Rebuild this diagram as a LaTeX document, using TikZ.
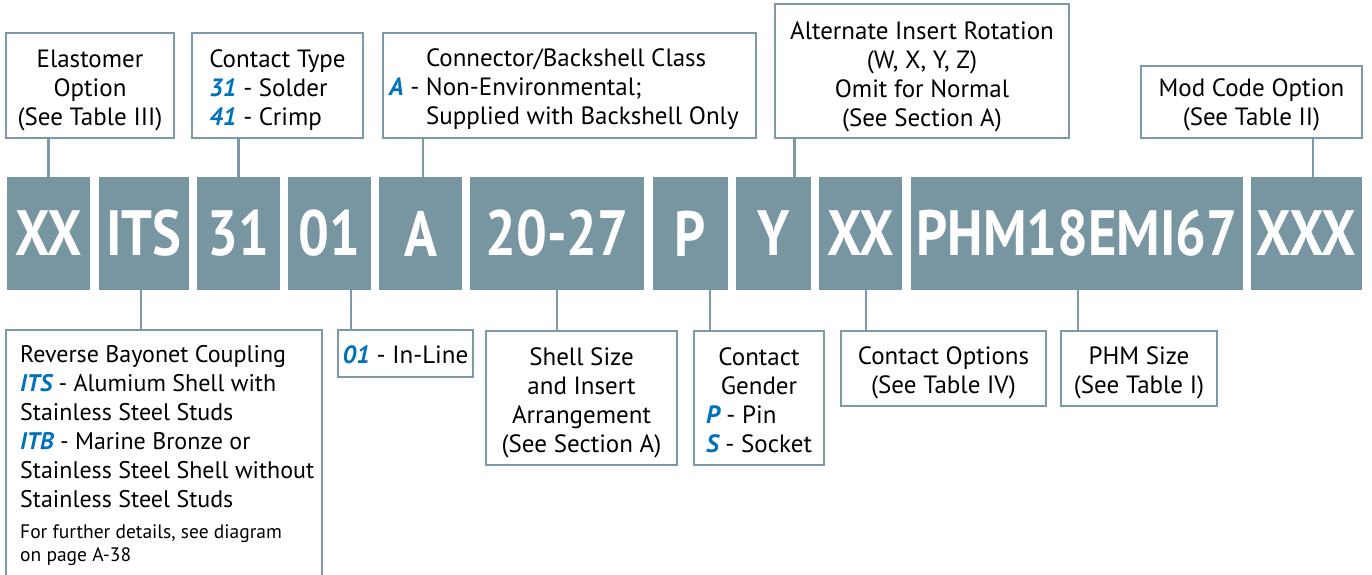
\documentclass[tikz,border=0pt]{standalone}
\usepackage{fontspec}
\setmainfont{PT Sans}
\newfontfamily\codefont[FakeStretch=0.85]{PT Sans}
\definecolor{blockgray}{RGB}{120,149,162}
\definecolor{linegray}{RGB}{125,153,168}
\definecolor{optblue}{RGB}{0,114,188}
\newcommand{\opt}[1]{{\color{optblue}\bfseries\itshape #1}}
\newcommand{\topgap}{\rule{0pt}{27pt}}
\tikzset{
	codebox/.style={fill=blockgray, text=white, inner sep=0pt, minimum height=113pt, font=\codefont\bfseries\fontsize{64}{64}\selectfont},
	infobox/.style={draw=linegray, line width=2.4pt, inner sep=0pt, font=\fontsize{25}{29}\selectfont},
	boxtext/.style={inner sep=0pt, font=\fontsize{25}{29}\selectfont},
	link/.style={draw=linegray, line width=2.4pt}
}
\begin{document}
\begin{tikzpicture}[x=1pt,y=-1pt]
	\useasboundingbox (0,0) rectangle (1372,574);
	% part number blocks
	\node[codebox, minimum width=83pt] (b1) at (48.5,233.5) {XX};
	\node[codebox, minimum width=90pt] (b2) at (144,233.5) {ITS};
	\node[codebox, minimum width=83pt] (b3) at (238.5,233.5) {31};
	\node[codebox, minimum width=83pt] (b4) at (329.5,233.5) {01};
	\node[codebox, minimum width=83pt] (b5) at (420.5,233.5) {A};
	\node[codebox, minimum width=174pt] (b6) at (557,233.5) {20-27};
	\node[codebox, minimum width=75pt] (b7) at (690.5,233.5) {P};
	\node[codebox, minimum width=75pt] (b8) at (773.5,233.5) {Y};
	\node[codebox, minimum width=83pt] (b9) at (860.5,233.5) {XX};
	\node[codebox, minimum width=332pt] (b10) at (1077,233.5) {PHM18EMI67};
	\node[codebox, minimum width=111pt] (b11) at (1306.5,233.5) {XXX};
	% upper boxes
	\node[infobox, minimum width=168pt, minimum height=105pt, align=center] (elast) at (90,85.5) {\topgap Elastomer\\Option\\(See Table III)};
	\draw[link] (elast.south -| b1.north) -- (b1.north);
	\node[infobox, minimum width=171pt, minimum height=105pt, align=left] (ctype) at (277.5,85.5) {\topgap Contact Type\\\opt{31} - Solder\\\opt{41} - Crimp};
	\draw[link] (ctype.south -| b3.north) -- (b3.north);
	\node[infobox, minimum width=373pt, minimum height=105pt] (cls) at (569.5,85.5) {};
	\node[boxtext, align=left, anchor=west] (clstext) at ([xshift=44pt, yshift=-4pt]cls.west) {Connector/Backshell Class\\\llap{\opt{A} - }Non-Environmental;\\Supplied with Backshell Only};
	\draw[link] ([xshift=2.5pt]b5.north) -- ([xshift=2.5pt]b5.north |- cls.south);
	\node[infobox, minimum width=294pt, minimum height=134pt, align=center] (rot) at (922,71) {\rule{0pt}{29pt}Alternate Insert Rotation\\(W, X, Y, Z)\\Omit for Normal\\(See Section A)};
	\draw[link] ([xshift=21pt]b8.north) -- ([xshift=21pt]b8.north |- rot.south);
	\node[infobox, minimum width=221pt, minimum height=72pt, align=center] (mod) at (1251.5,102) {\rule{0pt}{23pt}Mod Code Option\\(See Table II)};
	\draw[link] ([xshift=6.5pt]b11.north) -- ([xshift=6.5pt]b11.north |- mod.south);
	% lower boxes
	\node[infobox, minimum width=316pt, minimum height=260pt] (rev) at (164,460) {};
	\node[boxtext, align=left, anchor=north west, font=\fontsize{24}{29}\selectfont] (revtext) at (20,345) {Reverse Bayonet Coupling\\\opt{ITS} - Alumium Shell with\\Stainless Steel Studs\\\opt{ITB} - Marine Bronze or\\Stainless Steel Shell without\\Stainless Steel Studs};
	\node[boxtext, align=left, anchor=north west, font=\fontsize{19.5}{23}\selectfont] (revnote) at (20,524) {For further details, see diagram\\on page A-38};
	\draw[link] ([xshift=-3pt]b2.south) -- ([xshift=-3pt]b2.south |- rev.north);
	\node[infobox, minimum width=135pt, minimum height=47pt] (inline) at (405.5,353.5) {\rule{0pt}{20pt}\opt{01} - In-Line};
	\draw[link] ([xshift=21.5pt]b4.south) -- ([xshift=21.5pt]b4.south |- inline.north);
	\node[infobox, minimum width=191pt, minimum height=134pt, align=center] (shell) at (581.5,398) {\topgap Shell Size\\and Insert\\Arrangement\\(See Section A)};
	\draw[link] (b6.south) -- (b6.south |- shell.north);
	\node[infobox, minimum width=130pt, minimum height=134pt, align=center] (gender) at (759,398) {\rule{0pt}{23pt}Contact\\Gender\\\rlap{\opt{P} - Pin}\phantom{\opt{S} - Socket}\\\opt{S} - Socket};
	\draw[link] ([xshift=19.5pt]b7.south) -- ([xshift=19.5pt]b7.south |- gender.north);
	\node[infobox, minimum width=205pt, minimum height=75pt, align=center] (copt) at (943.5,368.5) {\topgap Contact Options\\(See Table IV)};
	\draw[link] ([xshift=5.5pt]b9.south) -- ([xshift=5.5pt]b9.south |- copt.north);
	\node[infobox, minimum width=156pt, minimum height=75pt, align=center] (phm) at (1139,368.5) {\topgap PHM Size\\(See Table I)};
	\draw[link] ([xshift=1pt]b10.south) -- ([xshift=1pt]b10.south |- phm.north);
\end{tikzpicture}
\end{document}
